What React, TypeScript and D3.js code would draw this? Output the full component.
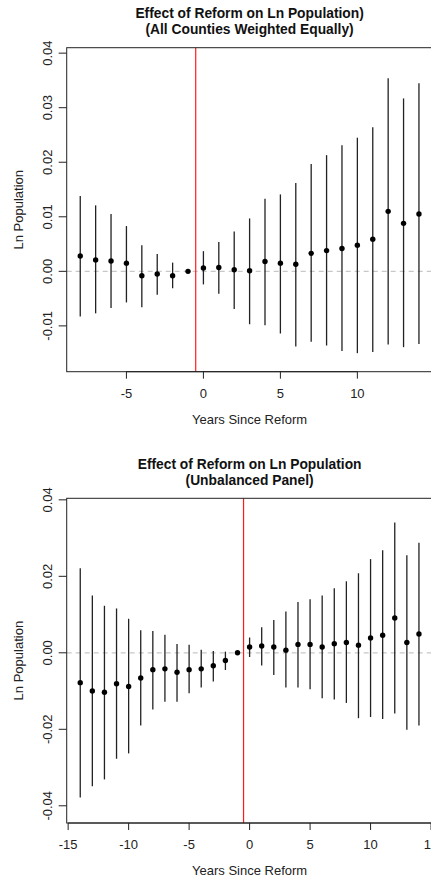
import React from 'react';
import * as d3 from 'd3';

// Panel 1: all counties weighted equally
const yearsA = [-8, -7, -6, -5, -4, -3, -2, -1, 0, 1, 2, 3, 4, 5, 6, 7, 8, 9, 10, 11, 12, 13, 14];
const estA = [0.0028, 0.0021, 0.0019, 0.0015, -0.0008, -0.0005, -0.0008, 0, 0.0006, 0.0007, 0.0003, 0.0001, 0.0018, 0.0015, 0.0013, 0.0033, 0.0038, 0.0042, 0.0048, 0.0059, 0.011, 0.0088, 0.0105];
const hiA = [0.0138, 0.0121, 0.0105, 0.0083, 0.0048, 0.0032, 0.0016, 0, 0.0037, 0.0054, 0.0073, 0.0097, 0.0133, 0.0141, 0.0162, 0.0197, 0.0213, 0.0231, 0.0245, 0.0264, 0.0354, 0.0317, 0.0345];
const loA = [-0.0083, -0.0077, -0.0067, -0.0057, -0.0066, -0.0043, -0.0031, 0, -0.0024, -0.0041, -0.0069, -0.0097, -0.0099, -0.0114, -0.0138, -0.0129, -0.0136, -0.0146, -0.015, -0.0148, -0.0134, -0.0139, -0.0133];

// Panel 2: unbalanced panel
const yearsB = [-14, -13, -12, -11, -10, -9, -8, -7, -6, -5, -4, -3, -2, -1, 0, 1, 2, 3, 4, 5, 6, 7, 8, 9, 10, 11, 12, 13, 14];
const estB = [-0.0078, -0.01, -0.0103, -0.0081, -0.0088, -0.0066, -0.0044, -0.0042, -0.0051, -0.0044, -0.0042, -0.0034, -0.002, 0, 0.0015, 0.0018, 0.0015, 0.0007, 0.0022, 0.0022, 0.0015, 0.0024, 0.0027, 0.002, 0.0039, 0.0046, 0.0091, 0.0027, 0.0049];
const hiB = [0.0221, 0.015, 0.0123, 0.0116, 0.0089, 0.0059, 0.0057, 0.0047, 0.0023, 0.0021, 0.0008, 0.0005, 0.0003, 0, 0.004, 0.0067, 0.0086, 0.0108, 0.0133, 0.014, 0.015, 0.0169, 0.0187, 0.0208, 0.0245, 0.0268, 0.0341, 0.0255, 0.0288];
const loB = [-0.0378, -0.0349, -0.0331, -0.0277, -0.0263, -0.019, -0.0148, -0.0128, -0.0128, -0.0106, -0.0091, -0.0075, -0.0045, 0, -0.0011, -0.0033, -0.0058, -0.0091, -0.0091, -0.0095, -0.0119, -0.0122, -0.0131, -0.0171, -0.0168, -0.0173, -0.0159, -0.0201, -0.019];

const xTicksA = [-5, 0, 5, 10];
const yTicksA = [-0.01, 0, 0.01, 0.02, 0.03, 0.04];
const xTicksB = [-15, -10, -5, 0, 5, 10, 15];
const yTicksB = [-0.04, -0.02, 0, 0.02, 0.04];

const FONT = '"Liberation Sans", Arial, sans-serif';
const LEFT = 66.7;
const RIGHT = 432.5;

interface PanelProps {
  title: string[];
  years: number[];
  est: number[];
  lo: number[];
  hi: number[];
  xDomain: [number, number];
  yDomain: [number, number];
  xTicks: number[];
  yTicks: number[];
  top: number;
  bottom: number;
  titleY: number;
  reformAt: number;
}

function Panel(p: PanelProps) {
  const x = d3.scaleLinear().domain(p.xDomain).range([LEFT, RIGHT]);
  const y = d3.scaleLinear().domain(p.yDomain).range([p.bottom, p.top]);
  // R prints a plain hyphen for negatives
  const fmt = (v: number) => v.toFixed(2);
  const cx = (LEFT + RIGHT) / 2;
  const cy = (p.top + p.bottom) / 2;
  const x0 = x(p.xTicks[0]);
  const x1 = x(p.xTicks[p.xTicks.length - 1]);

  return (
    <g fontFamily={FONT}>
      {p.title.map((t, i) => (
        <text key={t} x={cx} y={p.titleY + i * 15.8} textAnchor="middle" fontWeight="bold" fontSize={13.8} fill="#111">{t}</text>
      ))}

      {/* zero reference */}
      <line x1={LEFT} x2={RIGHT} y1={y(0)} y2={y(0)} stroke="#c8c8c8" strokeWidth={1.2} strokeDasharray="5,4" />

      {/* reform date */}
      <line x1={x(p.reformAt)} x2={x(p.reformAt)} y1={p.top} y2={p.bottom} stroke="#ff1a1a" strokeWidth={1.2} />

      {/* confidence intervals */}
      {p.years.map((yr, i) => (
        <line key={'ci' + yr} x1={x(yr)} x2={x(yr)} y1={y(p.lo[i])} y2={y(p.hi[i])} stroke="#222" strokeWidth={1.3} />
      ))}
      {p.years.map((yr, i) => (
        <circle key={'pt' + yr} cx={x(yr)} cy={y(p.est[i])} r={2.7} fill="#000" />
      ))}

      {/* frame */}
      <rect x={LEFT} y={p.top} width={RIGHT - LEFT} height={p.bottom - p.top} fill="none" stroke="#222" strokeWidth={1} />

      {/* x axis */}
      <line x1={x0} x2={x1} y1={p.bottom} y2={p.bottom} stroke="#222" />
      {p.xTicks.map(t => (
        <g key={'xt' + t}>
          <line x1={x(t)} x2={x(t)} y1={p.bottom} y2={p.bottom + 7} stroke="#222" />
          <text x={x(t)} y={p.bottom + 26} textAnchor="middle" fontSize={13} fill="#222">{t}</text>
        </g>
      ))}
      <text x={cx} y={p.bottom + 52} textAnchor="middle" fontSize={13} fill="#222">Years Since Reform</text>

      {/* y axis */}
      {p.yTicks.map(t => (
        <g key={'yt' + t}>
          <line x1={LEFT - 8} x2={LEFT} y1={y(t)} y2={y(t)} stroke="#222" />
          <text transform={`translate(51.5,${y(t)}) rotate(-90)`} textAnchor="middle" fontSize={13} fill="#222">{fmt(t)}</text>
        </g>
      ))}
      <text transform={`translate(23,${cy}) rotate(-90)`} textAnchor="middle" fontSize={13} fill="#222">Ln Population</text>
    </g>
  );
}

export default function App() {
  return (
    <div style={{ position: 'absolute', left: 0, top: 0, background: '#fff' }}>
      <svg width={431} height={879} style={{ display: 'block' }}>
        <rect width={431} height={879} fill="#fff" />
        <Panel
          title={['Effect of Reform on Ln Population)', '(All Counties Weighted Equally)']}
          years={yearsA} est={estA} lo={loA} hi={hiA}
          xDomain={[-8.88, 14.88]} yDomain={[-0.0184, 0.041]}
          xTicks={xTicksA} yTicks={yTicksA}
          top={47.7} bottom={371.7} titleY={18.3} reformAt={-0.5}
        />
        <Panel
          title={['Effect of Reform on Ln Population', '(Unbalanced Panel)']}
          years={yearsB} est={estB} lo={loB} hi={hiB}
          xDomain={[-15.12, 15.12]} yDomain={[-0.0445, 0.0404]}
          xTicks={xTicksB} yTicks={yTicksB}
          top={498.3} bottom={823} titleY={469} reformAt={-0.5}
        />
      </svg>
    </div>
  );
}
